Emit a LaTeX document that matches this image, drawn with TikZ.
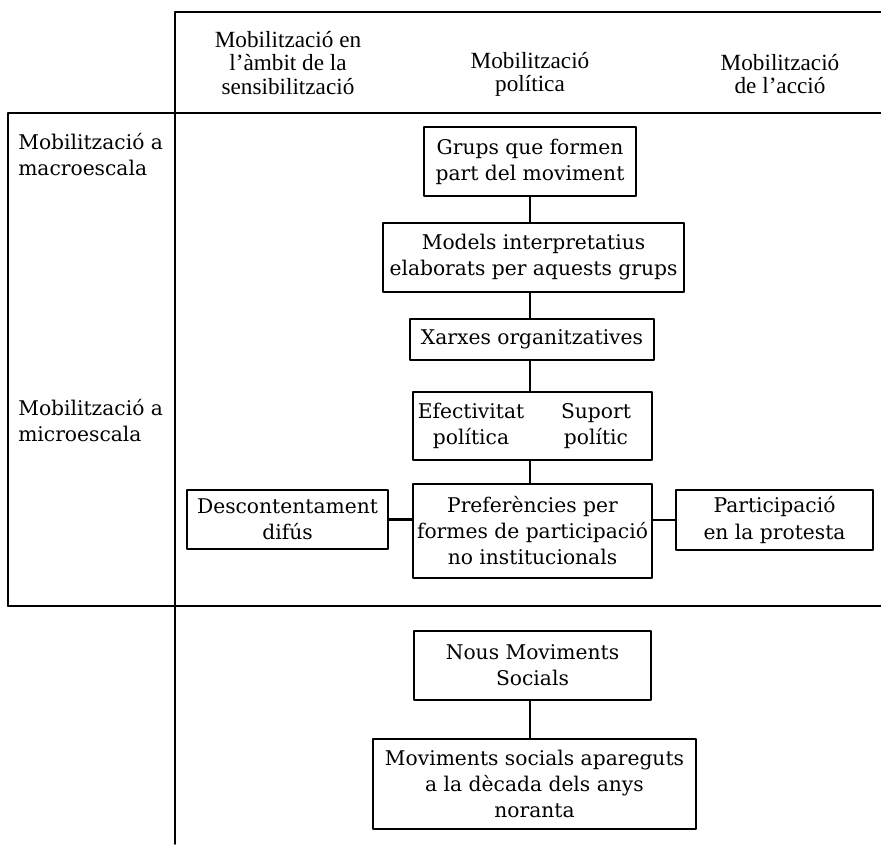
\documentclass[tikz,border=0pt]{standalone}
\usepackage{fontspec}
\setmainfont{Liberation Serif}
\newfontfamily\boxfamily{DejaVu Serif}
\newcommand{\boxfont}{\boxfamily\fontsize{14.4}{18.5}\selectfont}
\newcommand{\headfont}{\fontsize{16.5}{16.5}\selectfont}
\begin{document}
\begin{tikzpicture}[x=0.025cm,y=-0.025cm, line join=round, line cap=round,
  box/.style={draw, line width=1pt, align=center, inner sep=0pt, font=\boxfont},
  txt/.style={align=center, inner sep=0pt, font=\boxfont},
  head/.style={align=center, inner sep=0pt, font=\headfont},
  side/.style={align=left, anchor=west, inner sep=0pt, font=\boxfont},
  frame/.style={line width=1.1pt},
  link/.style={line width=1.9pt}]
  % --- Limits of the picture ---
  \useasboundingbox (0,0) rectangle (881,844);
  % --- Table frame ---
  \draw[frame] (881,12)--(175,12)--(175,844);
  \draw[frame] (8,606)--(8,113)--(881,113);
  \draw[frame] (8,606)--(881,606);
  % --- Column headings ---
  \node[head] (hsens) at (288,63) {Mobilització en\\l'àmbit de la\\sensibilització};
  \node[head] (hpol) at (530,74) {Mobilització\\política};
  \node[head] (hacc) at (780,74) {Mobilització\\de l'acció};
  % --- Row headings ---
  \node[side] (macro) at (18,155) {Mobilització a\\macroescala};
  \node[side] (micro) at (18,421) {Mobilització a\\microescala};
  % --- Boxes ---
  \node[box, minimum width=5.3cm, minimum height=1.725cm] (grups) at (530,161.5) {Grups que formen\\part del moviment};
  \node[box, minimum width=7.525cm, minimum height=1.725cm] (models) at (533.5,257.5) {Models interpretatius\\elaborats per aquests grups};
  \node[box, minimum width=6.1cm, minimum height=1.025cm] (xarxes) at (532,339.5) {Xarxes organitzatives};
  \node[box, minimum width=5.975cm, minimum height=1.7cm] (efect) at (532.5,426) {};
  \node[txt] (efectpol) at (471,426) {Efectivitat\\política};
  \node[txt] (suport) at (596,426) {Suport\\polític};
  \node[box, minimum width=5.975cm, minimum height=2.35cm] (pref) at (532.5,531) {Preferències per\\formes de participació\\no institucionals};
  \node[box, minimum width=5.025cm, minimum height=1.475cm] (desc) at (287.5,519.5) {Descontentament\\difús};
  \node[box, minimum width=4.925cm, minimum height=1.5cm] (part) at (774.5,520) {Participació\\en la protesta};
  \node[box, minimum width=5.925cm, minimum height=1.725cm] (nous) at (532.5,665.5) {Nous Moviments\\Socials};
  \node[box, minimum width=8.075cm, minimum height=2.25cm] (movs) at (534.5,784) {Moviments socials apareguts\\a la dècada dels anys\\noranta};
  % --- Connectors ---
  \draw[link] (grups.south) -- (grups.south |- models.north);
  \draw[link] (models.south -| grups.south) -- (xarxes.north -| grups.south);
  \draw[link] (xarxes.south -| grups.south) -- (efect.north -| grups.south);
  \draw[link] (efect.south -| grups.south) -- (pref.north -| grups.south);
  \draw[link] (desc.east) -- (desc.east -| pref.west);
  \draw[link] (pref.east |- part.west) -- (part.west);
  \draw[link] (nous.south -| grups.south) -- (movs.north -| grups.south);
\end{tikzpicture}
\end{document}
